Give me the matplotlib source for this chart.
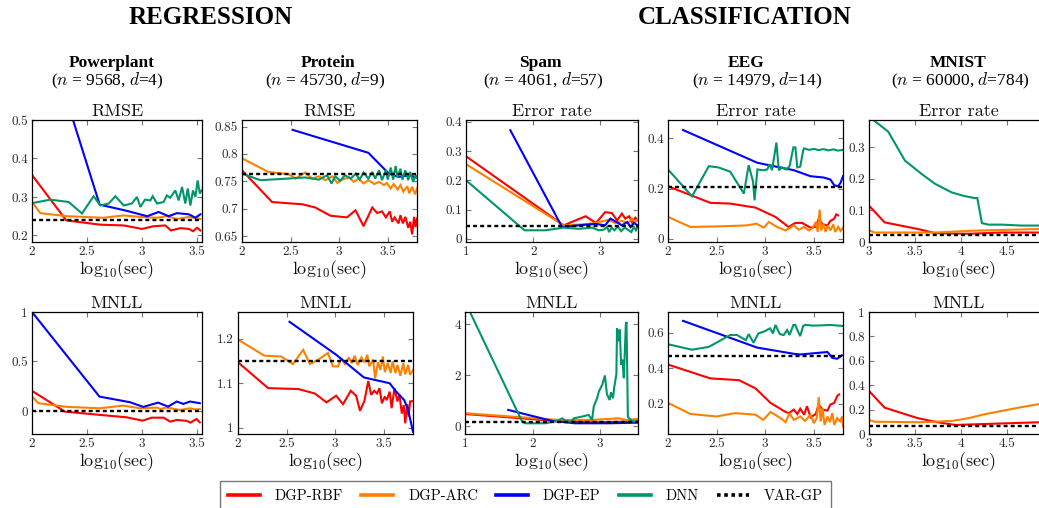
import matplotlib
matplotlib.use('Agg')
import matplotlib.pyplot as plt
from matplotlib.lines import Line2D

plt.rcParams['mathtext.fontset'] = 'cm'
plt.rcParams['axes.formatter.use_mathtext'] = True

# ---------------- colours ----------------
C_RBF = '#ff0000'
C_ARC = '#ff8000'
C_EP = '#0000ff'
C_DNN = '#00966b'
C_VAR = '#000000'

methods = ['DGP-RBF', 'DGP-ARC', 'DGP-EP', 'DNN', 'VAR-GP']

# ================= DATA =================
# ---- Powerplant RMSE ----
pp_rmse_rbf_x = [2.0, 2.313, 2.623, 2.836, 3.003, 3.109, 3.216, 3.267, 3.353, 3.43, 3.468, 3.505, 3.535]
pp_rmse_rbf_y = [0.357, 0.239, 0.228, 0.226, 0.217, 0.224, 0.226, 0.213, 0.219, 0.217, 0.211, 0.22, 0.213]
pp_rmse_arc_x = [2.0, 2.076, 2.32, 2.65, 2.836, 2.99, 3.14, 3.23, 3.32, 3.43, 3.535]
pp_rmse_arc_y = [0.287, 0.258, 0.25, 0.246, 0.252, 0.248, 0.246, 0.25, 0.243, 0.248, 0.243]
pp_rmse_ep_x = [2.3, 2.617, 2.85, 3.05, 3.155, 3.246, 3.32, 3.43, 3.49, 3.535]
pp_rmse_ep_y = [0.567, 0.28, 0.265, 0.25, 0.261, 0.25, 0.258, 0.255, 0.246, 0.255]
pp_rmse_dnn_x = [2.0, 2.167, 2.334, 2.456, 2.562, 2.623, 2.7, 2.76, 2.836, 2.91, 2.957, 2.988, 3.03, 3.08,
                 3.1, 3.14, 3.2, 3.23, 3.26, 3.307, 3.337, 3.368, 3.398, 3.42, 3.444, 3.468, 3.49, 3.51,
                 3.53, 3.545]
pp_rmse_dnn_y = [0.284, 0.293, 0.287, 0.257, 0.302, 0.278, 0.283, 0.302, 0.278, 0.283, 0.3, 0.274, 0.293,
                 0.291, 0.302, 0.283, 0.287, 0.304, 0.298, 0.317, 0.291, 0.326, 0.283, 0.322, 0.278, 0.317,
                 0.30, 0.343, 0.309, 0.317]
pp_rmse_var = 0.239

# ---- Protein RMSE ----
pr_rmse_rbf_x = [2.0, 2.31, 2.62, 2.755, 2.91, 3.08, 3.167, 3.25, 3.34, 3.39, 3.44, 3.48, 3.52, 3.545,
                 3.57, 3.61, 3.63, 3.655, 3.68, 3.71, 3.73, 3.75, 3.77, 3.785, 3.80]
pr_rmse_rbf_y = [0.770, 0.712, 0.708, 0.702, 0.687, 0.684, 0.697, 0.668, 0.702, 0.692, 0.695, 0.684,
                 0.695, 0.676, 0.684, 0.673, 0.688, 0.673, 0.685, 0.665, 0.676, 0.653, 0.685, 0.666, 0.682]
pr_rmse_arc_x = [2.0, 2.27, 2.48, 2.55, 2.65, 2.72, 2.79, 2.86, 2.93, 2.98, 3.03, 3.10, 3.15, 3.20, 3.25,
                 3.30, 3.36, 3.41, 3.46, 3.49, 3.53, 3.56, 3.60, 3.63, 3.66, 3.70, 3.72, 3.75, 3.78, 3.80]
pr_rmse_arc_y = [0.792, 0.767, 0.763, 0.755, 0.766, 0.755, 0.759, 0.752, 0.759, 0.747, 0.753, 0.757,
                 0.749, 0.755, 0.746, 0.752, 0.745, 0.749, 0.743, 0.747, 0.737, 0.745, 0.735, 0.743,
                 0.731, 0.741, 0.728, 0.740, 0.726, 0.737]
pr_rmse_ep_x = [2.52, 3.30, 3.51, 3.61, 3.72, 3.79]
pr_rmse_ep_y = [0.844, 0.802, 0.764, 0.758, 0.761, 0.757]
pr_rmse_dnn_x = [2.0, 2.19, 2.48, 2.65, 2.79, 2.875, 2.92, 2.96, 3.01, 3.06, 3.12, 3.17, 3.21, 3.25, 3.30,
                 3.34, 3.37, 3.41, 3.44, 3.48, 3.50, 3.53, 3.555, 3.58, 3.60, 3.63, 3.65, 3.68, 3.71,
                 3.73, 3.76, 3.785, 3.80]
pr_rmse_dnn_y = [0.764, 0.752, 0.755, 0.757, 0.753, 0.761, 0.746, 0.759, 0.751, 0.761, 0.755, 0.764,
                 0.753, 0.766, 0.755, 0.767, 0.755, 0.770, 0.752, 0.771, 0.753, 0.775, 0.753, 0.778,
                 0.757, 0.773, 0.753, 0.770, 0.752, 0.767, 0.749, 0.761, 0.757]
pr_rmse_var = 0.763

# ---- Spam error rate ----
sp_err_rbf_x = [1.0, 2.454, 2.78, 2.935, 3.07, 3.17, 3.25, 3.32, 3.37, 3.43, 3.47, 3.52, 3.55]
sp_err_rbf_y = [0.282, 0.046, 0.077, 0.054, 0.091, 0.088, 0.063, 0.086, 0.069, 0.077, 0.057, 0.072, 0.063]
sp_err_arc_x = [1.0, 2.454, 2.73, 2.93, 3.12, 3.22, 3.32, 3.42, 3.47, 3.52, 3.55]
sp_err_arc_y = [0.255, 0.046, 0.049, 0.054, 0.065, 0.054, 0.061, 0.054, 0.069, 0.057, 0.065]
sp_err_ep_x = [1.66, 2.43, 2.68, 2.93, 3.07, 3.15, 3.22, 3.32, 3.40, 3.45, 3.50, 3.55]
sp_err_ep_y = [0.371, 0.04, 0.046, 0.051, 0.046, 0.069, 0.06, 0.046, 0.057, 0.04, 0.054, 0.046]
sp_err_dnn_x = [1.0, 1.87, 2.18, 2.454, 2.68, 2.876, 2.975, 3.05, 3.10, 3.13, 3.17, 3.21, 3.26, 3.31,
                3.36, 3.41, 3.46, 3.50, 3.53, 3.55]
sp_err_dnn_y = [0.2, 0.029, 0.029, 0.038, 0.034, 0.038, 0.029, 0.031, 0.04, 0.023, 0.038, 0.029, 0.042,
                0.026, 0.038, 0.031, 0.023, 0.04, 0.029, 0.038]
sp_err_var = 0.043

# ---- EEG error rate ----
ee_err_rbf_x = [2.0, 2.436, 2.64, 2.90, 3.105, 3.24, 3.31, 3.38, 3.466, 3.52, 3.55, 3.59, 3.64, 3.67,
                3.71, 3.73, 3.75]
ee_err_rbf_y = [0.209, 0.143, 0.14, 0.124, 0.087, 0.047, 0.063, 0.063, 0.044, 0.047, 0.08, 0.057, 0.053,
                0.071, 0.08, 0.097, 0.093]
ee_err_arc_x = [2.0, 2.23, 2.50, 2.81, 2.91, 2.985, 3.037, 3.12, 3.21, 3.294, 3.345, 3.40, 3.45, 3.49,
                3.52, 3.54, 3.56, 3.575, 3.60, 3.62, 3.645, 3.67, 3.70, 3.72, 3.75, 3.775, 3.80]
ee_err_arc_y = [0.087, 0.047, 0.049, 0.053, 0.06, 0.044, 0.067, 0.047, 0.033, 0.053, 0.036, 0.047, 0.033,
                0.044, 0.067, 0.027, 0.116, 0.033, 0.06, 0.027, 0.053, 0.033, 0.057, 0.027, 0.047,
                0.031, 0.044]
ee_err_ep_x = [2.155, 2.917, 3.037, 3.294, 3.466, 3.60, 3.67, 3.71, 3.75, 3.775, 3.80]
ee_err_ep_y = [0.433, 0.303, 0.293, 0.273, 0.249, 0.244, 0.236, 0.213, 0.209, 0.223, 0.249]
ee_err_dnn_x = [2.0, 2.247, 2.42, 2.52, 2.64, 2.78, 2.83, 2.875, 2.89, 2.92, 2.98, 3.02, 3.047, 3.07,
                3.115, 3.14, 3.174, 3.22, 3.25, 3.29, 3.31, 3.33, 3.36, 3.39, 3.40, 3.45, 3.50, 3.55,
                3.60, 3.65, 3.70, 3.75, 3.80]
ee_err_dnn_y = [0.276, 0.169, 0.289, 0.284, 0.267, 0.18, 0.293, 0.227, 0.153, 0.276, 0.273, 0.276, 0.297,
                0.273, 0.383, 0.273, 0.284, 0.276, 0.289, 0.364, 0.364, 0.284, 0.287, 0.351, 0.36,
                0.354, 0.358, 0.353, 0.357, 0.352, 0.356, 0.351, 0.354]
ee_err_var = 0.207

# ---- MNIST error rate ----
mn_err_rbf_x = [3.0, 3.17, 3.535, 3.72, 4.08, 4.445, 4.85, 5.0]
mn_err_rbf_y = [0.115, 0.062, 0.041, 0.028, 0.026, 0.03, 0.03, 0.03]
mn_err_arc_x = [3.0, 3.06, 3.72, 4.15, 4.85, 5.0]
mn_err_arc_y = [0.037, 0.03, 0.03, 0.036, 0.041, 0.042]
mn_err_dnn_x = [3.0, 3.21, 3.39, 3.57, 3.72, 3.90, 4.03, 4.15, 4.18, 4.23, 4.30, 4.445, 4.66, 4.85, 5.0]
mn_err_dnn_y = [0.397, 0.349, 0.258, 0.216, 0.184, 0.157, 0.146, 0.139, 0.139, 0.06, 0.055, 0.055, 0.052,
                0.052, 0.051]
mn_err_var = 0.023

# ---- Powerplant MNLL ----
pp_mnll_rbf_x = [2.0, 2.30, 2.62, 2.86, 3.01, 3.09, 3.20, 3.26, 3.32, 3.41, 3.445, 3.50, 3.53]
pp_mnll_rbf_y = [0.203, -0.007, -0.04, -0.064, -0.098, -0.068, -0.068, -0.108, -0.091, -0.10, -0.118,
                 -0.081, -0.115]
pp_mnll_arc_x = [2.0, 2.06, 2.32, 2.62, 2.83, 2.985, 3.14, 3.17, 3.23, 3.35, 3.44, 3.50, 3.53]
pp_mnll_arc_y = [0.145, 0.078, 0.041, 0.027, 0.054, 0.027, 0.034, 0.02, 0.034, 0.01, 0.027, 0.014, 0.02]
pp_mnll_ep_x = [2.0, 2.615, 2.894, 3.015, 3.15, 3.24, 3.32, 3.38, 3.44, 3.50, 3.53]
pp_mnll_ep_y = [1.0, 0.145, 0.088, 0.041, 0.084, 0.044, 0.095, 0.071, 0.095, 0.084, 0.078]
pp_mnll_var = -0.005

# ---- Protein MNLL ----
pr_mnll_rbf_x = [2.0, 2.31, 2.62, 2.79, 2.91, 3.01, 3.08, 3.16, 3.215, 3.255, 3.30, 3.34, 3.37, 3.40,
                 3.43, 3.455, 3.48, 3.51, 3.53, 3.56, 3.58, 3.61, 3.64, 3.66, 3.685, 3.705, 3.72, 3.74,
                 3.755, 3.77, 3.80]
pr_mnll_rbf_y = [1.147, 1.089, 1.087, 1.077, 1.057, 1.072, 1.053, 1.083, 1.072, 1.038, 1.06, 1.105, 1.074,
                 1.083, 1.077, 1.089, 1.055, 1.07, 1.062, 1.081, 1.044, 1.089, 1.059, 1.075, 1.032,
                 1.051, 1.01, 1.053, 1.025, 1.059, 1.06]
pr_mnll_arc_x = [2.0, 2.27, 2.445, 2.565, 2.67, 2.74, 2.84, 2.925, 2.976, 3.03, 3.06, 3.10, 3.14, 3.17,
                 3.20, 3.23, 3.27, 3.30, 3.33, 3.35, 3.39, 3.41, 3.44, 3.465, 3.49, 3.51, 3.54, 3.57,
                 3.59, 3.62, 3.64, 3.67, 3.70, 3.72, 3.75, 3.77, 3.80]
pr_mnll_arc_y = [1.198, 1.162, 1.16, 1.143, 1.175, 1.143, 1.155, 1.168, 1.138, 1.138, 1.156, 1.143, 1.158,
                 1.145, 1.162, 1.141, 1.158, 1.147, 1.164, 1.138, 1.153, 1.111, 1.147, 1.13, 1.16,
                 1.125, 1.145, 1.123, 1.149, 1.123, 1.141, 1.117, 1.145, 1.12, 1.141, 1.119, 1.13]
pr_mnll_ep_x = [2.53, 3.01, 3.295, 3.56, 3.62, 3.71, 3.75, 3.80]
pr_mnll_ep_y = [1.238, 1.164, 1.113, 1.10, 1.083, 1.062, 1.04, 0.991]
pr_mnll_var = 1.149

# ---- Spam MNLL ----
sp_mnll_rbf_x = [1.0, 2.34, 2.88, 3.38, 3.55]
sp_mnll_rbf_y = [0.47, 0.197, 0.144, 0.17, 0.17]
sp_mnll_arc_x = [1.0, 2.39, 2.88, 3.28, 3.38, 3.55]
sp_mnll_arc_y = [0.50, 0.236, 0.236, 0.30, 0.236, 0.275]
sp_mnll_ep_x = [1.64, 2.29, 2.63, 3.13, 3.55]
sp_mnll_ep_y = [0.63, 0.197, 0.105, 0.105, 0.13]
sp_mnll_dnn_x = [1.0, 1.84, 1.89, 2.19, 2.36, 2.44, 2.485, 2.58, 2.61, 2.73, 2.83, 2.88, 2.905, 2.955,
                 2.98, 3.03, 3.07, 3.08, 3.10, 3.14, 3.16, 3.19, 3.21, 3.24, 3.25, 3.28, 3.29, 3.31, 3.33,
                 3.35, 3.38, 3.39, 3.41, 3.45, 3.50, 3.55]
sp_mnll_dnn_y = [4.88, 0.2, 0.105, 0.105, 0.197, 0.30, 0.197, 0.17, 0.30, 0.367, 0.433, 0.236, 0.76, 1.09,
                 1.35, 1.61, 1.98, 1.74, 1.25, 1.02, 1.32, 1.09, 1.55, 2.03, 3.84, 3.32, 3.78, 2.40,
                 2.60, 1.875, 3.97, 4.08, 0.367, 0.236, 0.17, 0.197]
sp_mnll_var = 0.144

# ---- EEG MNLL ----
ee_mnll_rbf_x = [2.0, 2.436, 2.73, 2.90, 3.054, 3.21, 3.243, 3.294, 3.33, 3.36, 3.40, 3.43, 3.466, 3.52,
                 3.55, 3.59, 3.64, 3.67, 3.71, 3.74, 3.76]
ee_mnll_rbf_y = [0.42, 0.342, 0.332, 0.286, 0.204, 0.152, 0.146, 0.166, 0.141, 0.171, 0.137, 0.185,
                 0.122, 0.141, 0.194, 0.166, 0.16, 0.194, 0.204, 0.242, 0.252]
ee_mnll_arc_x = [2.0, 2.23, 2.50, 2.69, 2.90, 2.98, 3.054, 3.157, 3.21, 3.25, 3.294, 3.36, 3.41, 3.466,
                 3.50, 3.53, 3.55, 3.57, 3.59, 3.61, 3.64, 3.665, 3.69, 3.71, 3.74, 3.77, 3.79, 3.80]
ee_mnll_arc_y = [0.204, 0.141, 0.127, 0.146, 0.137, 0.108, 0.152, 0.118, 0.095, 0.146, 0.108, 0.127,
                 0.102, 0.137, 0.089, 0.118, 0.236, 0.099, 0.175, 0.079, 0.127, 0.095, 0.146, 0.079,
                 0.118, 0.099, 0.127, 0.07]
ee_mnll_ep_x = [2.155, 2.917, 3.294, 3.36, 3.64, 3.69, 3.74, 3.79]
ee_mnll_ep_y = [0.667, 0.516, 0.481, 0.477, 0.491, 0.458, 0.453, 0.472]
ee_mnll_dnn_x = [2.0, 2.247, 2.42, 2.64, 2.71, 2.80, 2.83, 2.88, 2.93, 2.985, 3.05, 3.08, 3.105, 3.15,
                 3.19, 3.225, 3.25, 3.29, 3.31, 3.33, 3.36, 3.39, 3.41, 3.50, 3.60, 3.67, 3.80]
ee_mnll_dnn_y = [0.535, 0.504, 0.52, 0.587, 0.587, 0.558, 0.592, 0.543, 0.596, 0.606, 0.625, 0.596,
                 0.644, 0.592, 0.587, 0.615, 0.587, 0.644, 0.644, 0.615, 0.581, 0.638, 0.644, 0.640,
                 0.642, 0.644, 0.638]
ee_mnll_var = 0.466

# ---- MNIST MNLL ----
mn_mnll_rbf_x = [3.0, 3.17, 3.535, 3.75, 3.94, 4.26, 4.85, 5.0]
mn_mnll_rbf_y = [0.353, 0.216, 0.129, 0.096, 0.074, 0.082, 0.096, 0.096]
mn_mnll_arc_x = [3.0, 3.06, 3.535, 3.72, 3.90, 4.08, 4.26, 4.445, 4.63, 4.85, 5.0]
mn_mnll_arc_y = [0.115, 0.101, 0.096, 0.101, 0.107, 0.129, 0.162, 0.189, 0.216, 0.245, 0.26]
mn_mnll_var = 0.068

# ---- tick values / labels ----
xt_2_35 = [2, 2.5, 3, 3.5]
xl_2_35 = ['2', '2.5', '3', '3.5']
xt_1_3 = [1, 2, 3]
xl_1_3 = ['1', '2', '3']
xt_3_45 = [3, 3.5, 4, 4.5]
xl_3_45 = ['3', '3.5', '4', '4.5']

datasets = ['Powerplant', 'Protein', 'Spam', 'EEG', 'MNIST']
dataset_info = [r'($n$ = 9568, $d$=4)', r'($n$ = 45730, $d$=9)', r'($n$ = 4061, $d$=57)',
                r'($n$ = 14979, $d$=14)', r'($n$ = 60000, $d$=784)']
top_metrics = ['RMSE', 'RMSE', 'Error rate', 'Error rate', 'Error rate']

# ================= FIGURE =================
W, H = 1039, 508
fig = plt.figure(figsize=(W / 100, H / 100), dpi=100)

TICK_FONT = 'cmr10'
TXT_COLOR = '#2a2a2a'


def px_axes(x0, x1, y0, y1):
    return fig.add_axes([x0 / W, 1 - y1 / H, (x1 - x0) / W, (y1 - y0) / H])


def style(ax, xlim, ylim, xt, xl, yt, yl, title):
    ax.set_xlim(*xlim)
    ax.set_ylim(*ylim)
    ax.set_xticks(xt)
    ax.set_xticklabels(xl, fontfamily=TICK_FONT, fontsize=9.5, color=TXT_COLOR)
    ax.set_yticks(yt)
    ax.set_yticklabels(yl, fontfamily=TICK_FONT, fontsize=9.5, color=TXT_COLOR)
    ax.tick_params(direction='in', length=3.5, width=0.8, color='#777777', top=True, right=True, pad=3)
    for s in ax.spines.values():
        s.set_linewidth(0.9)
        s.set_color('black')
    ax.set_title(title, fontfamily=TICK_FONT, fontsize=13, pad=3, color='#111111')
    ax.set_xlabel(r'$\mathrm{log}_{10}(\mathrm{sec})$', fontsize=13, labelpad=0, color='#111111')


LW = 1.5


def draw(ax, series, var):
    for (x, y, c) in series:
        ax.plot(x, y, color=c, lw=LW, solid_joinstyle='miter', clip_on=True)
    ax.axhline(var, color=C_VAR, lw=1.7, ls=(0, (1.7, 1.3)))


TOP = (120, 242)
BOT = (312, 434)

# top row
ax = px_axes(32, 202, *TOP)
draw(ax, [(pp_rmse_rbf_x, pp_rmse_rbf_y, C_RBF), (pp_rmse_arc_x, pp_rmse_arc_y, C_ARC),
          (pp_rmse_ep_x, pp_rmse_ep_y, C_EP), (pp_rmse_dnn_x, pp_rmse_dnn_y, C_DNN)], pp_rmse_var)
style(ax, (2, 3.55), (0.183, 0.5), xt_2_35, xl_2_35, [0.2, 0.3, 0.4, 0.5], ['0.2', '0.3', '0.4', '0.5'],
      top_metrics[0])

ax = px_axes(242, 417, *TOP)
draw(ax, [(pr_rmse_rbf_x, pr_rmse_rbf_y, C_RBF), (pr_rmse_arc_x, pr_rmse_arc_y, C_ARC),
          (pr_rmse_ep_x, pr_rmse_ep_y, C_EP), (pr_rmse_dnn_x, pr_rmse_dnn_y, C_DNN)], pr_rmse_var)
style(ax, (2, 3.8), (0.639, 0.862), xt_2_35, xl_2_35, [0.65, 0.7, 0.75, 0.8, 0.85],
      ['0.65', '0.7', '0.75', '0.8', '0.85'], top_metrics[1])

ax = px_axes(466, 638, *TOP)
draw(ax, [(sp_err_rbf_x, sp_err_rbf_y, C_RBF), (sp_err_arc_x, sp_err_arc_y, C_ARC),
          (sp_err_ep_x, sp_err_ep_y, C_EP), (sp_err_dnn_x, sp_err_dnn_y, C_DNN)], sp_err_var)
style(ax, (1, 3.56), (-0.011, 0.406), xt_1_3, xl_1_3, [0, 0.1, 0.2, 0.3, 0.4],
      ['0', '0.1', '0.2', '0.3', '0.4'], top_metrics[2])

ax = px_axes(668, 843, *TOP)
draw(ax, [(ee_err_rbf_x, ee_err_rbf_y, C_RBF), (ee_err_arc_x, ee_err_arc_y, C_ARC),
          (ee_err_ep_x, ee_err_ep_y, C_EP), (ee_err_dnn_x, ee_err_dnn_y, C_DNN)], ee_err_var)
style(ax, (2, 3.8), (-0.013, 0.473), xt_2_35, xl_2_35, [0, 0.2, 0.4], ['0', '0.2', '0.4'], top_metrics[3])

ax = px_axes(869, 1048, *TOP)
draw(ax, [(mn_err_rbf_x, mn_err_rbf_y, C_RBF), (mn_err_arc_x, mn_err_arc_y, C_ARC),
          (mn_err_dnn_x, mn_err_dnn_y, C_DNN)], mn_err_var)
style(ax, (3, 4.95), (0, 0.386), xt_3_45, xl_3_45, [0, 0.1, 0.2, 0.3], ['0', '0.1', '0.2', '0.3'],
      top_metrics[4])

# bottom row
ax = px_axes(32, 202, *BOT)
draw(ax, [(pp_mnll_rbf_x, pp_mnll_rbf_y, C_RBF), (pp_mnll_arc_x, pp_mnll_arc_y, C_ARC),
          (pp_mnll_ep_x, pp_mnll_ep_y, C_EP)], pp_mnll_var)
style(ax, (2, 3.55), (-0.233, 1.0), xt_2_35, xl_2_35, [0, 0.5, 1], ['0', '0.5', '1'], 'MNLL')

ax = px_axes(238, 413, *BOT)
draw(ax, [(pr_mnll_rbf_x, pr_mnll_rbf_y, C_RBF), (pr_mnll_arc_x, pr_mnll_arc_y, C_ARC),
          (pr_mnll_ep_x, pr_mnll_ep_y, C_EP)], pr_mnll_var)
style(ax, (2, 3.8), (0.986, 1.26), xt_2_35, xl_2_35, [1, 1.1, 1.2], ['1', '1.1', '1.2'], 'MNLL')

ax = px_axes(465, 638, *BOT)
draw(ax, [(sp_mnll_rbf_x, sp_mnll_rbf_y, C_RBF), (sp_mnll_arc_x, sp_mnll_arc_y, C_ARC),
          (sp_mnll_ep_x, sp_mnll_ep_y, C_EP), (sp_mnll_dnn_x, sp_mnll_dnn_y, C_DNN)], sp_mnll_var)
style(ax, (1, 3.56), (-0.315, 4.47), xt_1_3, xl_1_3, [0, 2, 4], ['0', '2', '4'], 'MNLL')

ax = px_axes(668, 843, *BOT)
draw(ax, [(ee_mnll_rbf_x, ee_mnll_rbf_y, C_RBF), (ee_mnll_arc_x, ee_mnll_arc_y, C_ARC),
          (ee_mnll_ep_x, ee_mnll_ep_y, C_EP), (ee_mnll_dnn_x, ee_mnll_dnn_y, C_DNN)], ee_mnll_var)
style(ax, (2, 3.8), (0.028, 0.717), xt_2_35, xl_2_35, [0.2, 0.4, 0.6], ['0.2', '0.4', '0.6'], 'MNLL')

ax = px_axes(869, 1048, *BOT)
draw(ax, [(mn_mnll_rbf_x, mn_mnll_rbf_y, C_RBF), (mn_mnll_arc_x, mn_mnll_arc_y, C_ARC)], mn_mnll_var)
style(ax, (3, 4.95), (0, 1.0), xt_3_45, xl_3_45, [0, 0.2, 0.4, 0.6, 0.8, 1],
      ['0', '0.2', '0.4', '0.6', '0.8', '1'], 'MNLL')

# ---- headings ----
SERIF = 'Liberation Serif'
fig.text(211 / W, 1 - 17.5 / H, 'REGRESSION', ha='center', va='center', fontfamily=SERIF,
         fontweight='bold', fontsize=18)
fig.text(745 / W, 1 - 17.5 / H, 'CLASSIFICATION', ha='center', va='center', fontfamily=SERIF,
         fontweight='bold', fontsize=18)
name_x = [112, 328, 540, 746, 958]
info_x = [107, 325, 543, 757, 960]
for nm, inf, xn, xi in zip(datasets, dataset_info, name_x, info_x):
    fig.text(xn / W, 1 - 63 / H, nm, ha='center', va='center', fontfamily=SERIF, fontweight='bold',
             fontsize=12.5)
    fig.text(xi / W, 1 - 81 / H, inf, ha='center', va='center', fontfamily=SERIF, fontsize=12.5)

# ---- legend ----
handles = [Line2D([], [], color=C_RBF, lw=2.6), Line2D([], [], color=C_ARC, lw=2.6),
           Line2D([], [], color=C_EP, lw=2.6), Line2D([], [], color=C_DNN, lw=2.6),
           Line2D([], [], color=C_VAR, lw=2.6, ls=(0, (1.0, 1.0)))]
leg = fig.legend(handles, methods, loc='upper center', bbox_to_anchor=(525.5 / W, 1 - 481 / H), ncol=5,
                 frameon=True, fancybox=False, edgecolor='#555555', handlelength=2.2,
                 handletextpad=1.0, columnspacing=1.25, borderpad=0.55, borderaxespad=0.0,
                 prop={'family': TICK_FONT, 'size': 10.5})
leg.get_frame().set_linewidth(1.0)

fig.savefig('out.png', dpi=100)
